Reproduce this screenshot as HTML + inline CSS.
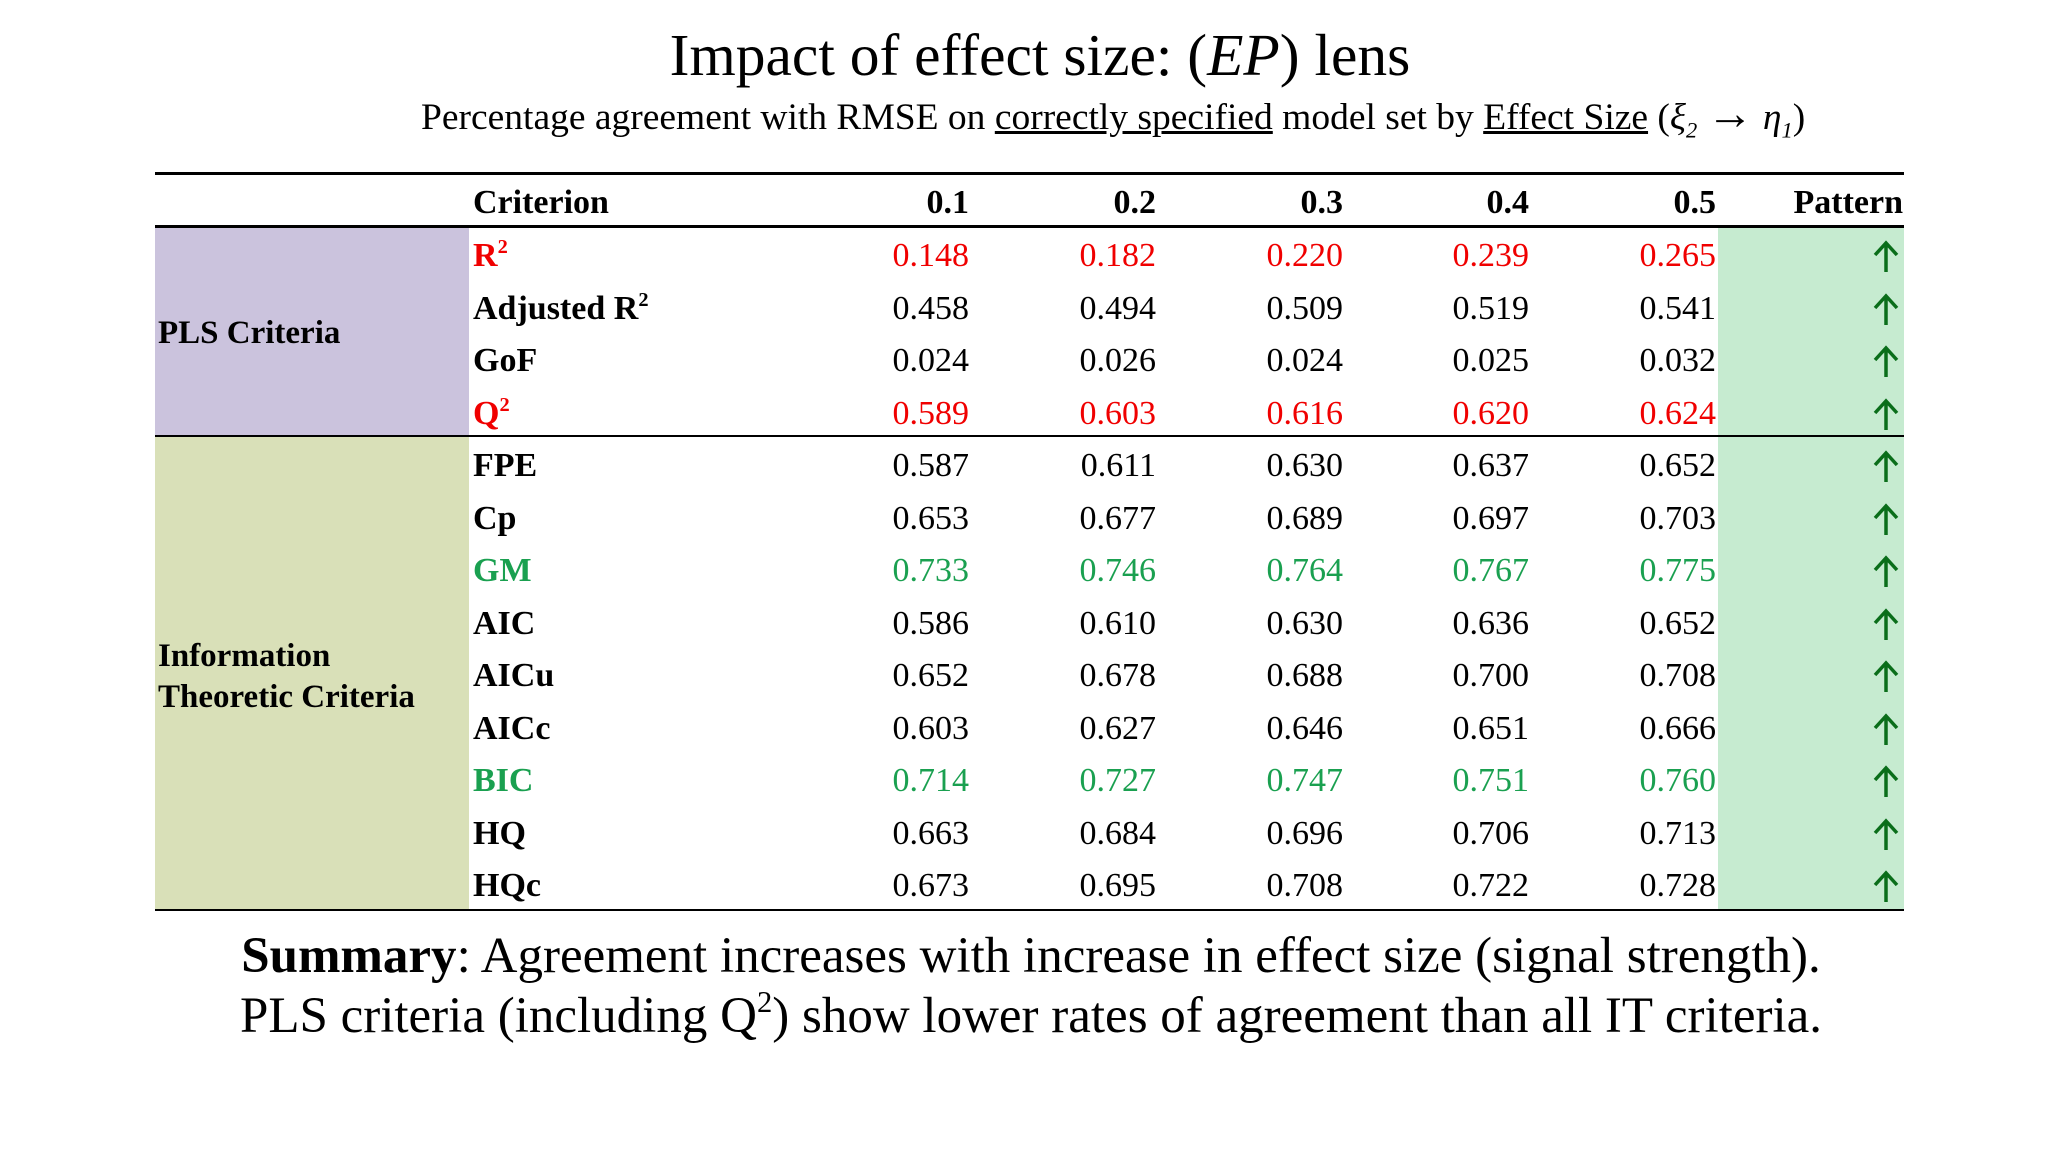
<!DOCTYPE html>
<html><head><meta charset="utf-8"><style>
body{margin:0;width:2048px;height:1152px;background:#fff;font-family:"Liberation Serif",serif;position:relative;overflow:hidden}
.a{position:absolute;white-space:nowrap}
.c{position:absolute;font-size:34px;line-height:52px;height:52px}
.r{text-align:right;width:200px}
sup{font-size:0.6em;line-height:0;vertical-align:0.65em}
</style></head><body>
<div class="a" style="left:0;width:2080px;text-align:center;top:22px;font-size:59.5px;line-height:66px">Impact of effect size: (<i>EP</i>) lens</div>
<div class="a" style="left:421px;top:96px;font-size:37.5px;line-height:44px">Percentage agreement with RMSE on <u>correctly specified</u> model set by <u>Effect Size</u> (<i>ξ<sub style="font-size:0.6em">2</sub></i> <b style="font-size:1.25em;line-height:0">→</b> <i>η<sub style="font-size:0.6em">1</sub></i>)</div>
<div class="a" style="left:155px;top:227px;width:314px;height:209px;background:#cbc3dd"></div>
<div class="a" style="left:155px;top:436px;width:314px;height:474px;background:#d9e0b8"></div>
<div class="a" style="left:1718px;top:227px;width:186px;height:683px;background:#c6ebd0"></div>
<div class="a" style="left:155px;top:172px;width:1749px;height:3px;background:#000"></div>
<div class="a" style="left:155px;top:225px;width:1749px;height:3px;background:#000"></div>
<div class="a" style="left:155px;top:435px;width:1749px;height:2px;background:#000"></div>
<div class="a" style="left:155px;top:909px;width:1749px;height:2px;background:#000"></div>
<div class="a" style="left:158px;top:315px;font-size:33px;font-weight:bold">PLS Criteria</div>
<div class="a" style="left:158px;top:636px;font-size:33px;font-weight:bold;line-height:41px">Information<br>Theoretic Criteria</div>
<div id="tbl"></div>
<div class="a" style="left:0;width:2062px;text-align:center;top:926px;font-size:51px;line-height:60px"><b>Summary</b>: Agreement increases with increase in effect size (signal strength).<br>PLS criteria (including Q<sup>2</sup>) show lower rates of agreement than all IT criteria.</div>
<script>
const effectSizes=["0.1","0.2","0.3","0.4","0.5"];
const criteria=["R<sup>2</sup>","Adjusted R<sup>2</sup>","GoF","Q<sup>2</sup>","FPE","Cp","GM","AIC","AICu","AICc","BIC","HQ","HQc"];
const colors=["#f00000","#000","#000","#f00000","#000","#000","#1aa050","#000","#000","#000","#1aa050","#000","#000"];
const v01=["0.148","0.458","0.024","0.589","0.587","0.653","0.733","0.586","0.652","0.603","0.714","0.663","0.673"];
const v02=["0.182","0.494","0.026","0.603","0.611","0.677","0.746","0.610","0.678","0.627","0.727","0.684","0.695"];
const v03=["0.220","0.509","0.024","0.616","0.630","0.689","0.764","0.630","0.688","0.646","0.747","0.696","0.708"];
const v04=["0.239","0.519","0.025","0.620","0.637","0.697","0.767","0.636","0.700","0.651","0.751","0.706","0.722"];
const v05=["0.265","0.541","0.032","0.624","0.652","0.703","0.775","0.652","0.708","0.666","0.760","0.713","0.728"];
const cols=[v01,v02,v03,v04,v05];
const colRight=[969,1156,1343,1529,1716];
const t=document.getElementById('tbl');
function mk(html,x,y,cls,st){const d=document.createElement('div');d.className='c '+cls;d.innerHTML=html;d.style.left=x+'px';d.style.top=y+'px';if(st)d.style.cssText+=st;t.appendChild(d);return d;}
let h=mk('Criterion',473,177,'','font-weight:bold');


effectSizes.forEach((e,i)=>{const d=mk(e,colRight[i]-200,177,'r','font-weight:bold');

});
h=mk('Pattern',1703,177,'r','font-weight:bold');


const y0=230,rh=52.54;
criteria.forEach((c,r)=>{const y=y0+r*rh;
 const l=mk(c,473,y,'','font-weight:bold;color:'+colors[r]);
 
 
 cols.forEach((col,i)=>{const d=mk(col[r],colRight[i]-200,y,'r','color:'+colors[r]);
  
  });
 const a=mk('<svg width="28" height="34" viewBox="0 0 28 34"><path d="M14 32V4M3 15L14 3L25 15" stroke="#0a6e1a" stroke-width="3.5" fill="none"/></svg>',1872,y+10,'','height:34px;line-height:0');
 
 
});
</script>
</body></html>
